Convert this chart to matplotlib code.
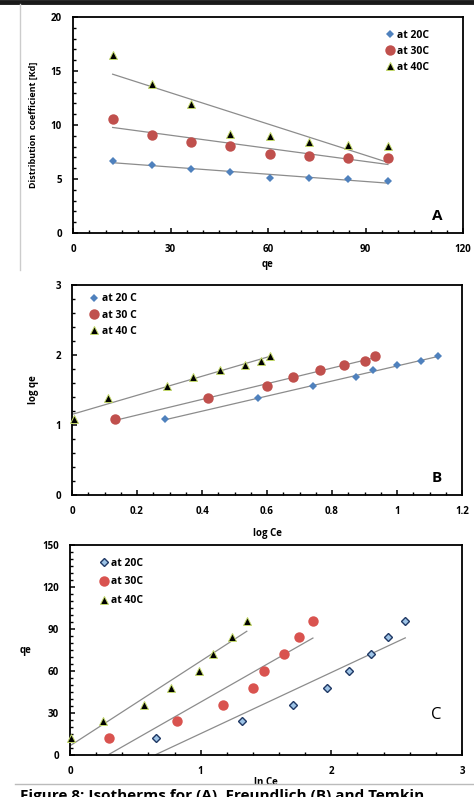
import numpy as np
import matplotlib
matplotlib.use("Agg")
import matplotlib.pyplot as plt
from matplotlib.ticker import MultipleLocator

plt.rcParams.update({"font.family": ["Open Sans", "DejaVu Sans"], "font.weight": "bold",
                     "axes.labelweight": "bold", "font.size": 7, "axes.linewidth": 1.3})

# ---- data ----
labels_a = ["at 20C", "at 30C", "at 40C"]
labels_b = ["at 20 C", "at 30 C", "at 40 C"]

# A: Kd vs qe
qe_a = [12.2, 24.3, 36.3, 48.4, 60.6, 72.5, 84.7, 96.9]
kd_20 = [6.65, 6.3, 5.95, 5.68, 5.08, 5.05, 4.98, 4.82]
kd_30 = [10.6, 9.12, 8.38, 8.05, 7.36, 7.1, 6.98, 6.9]
kd_40 = [16.5, 13.8, 11.9, 9.2, 9.0, 8.4, 8.12, 8.08]

# B: log qe vs log Ce
logqe = [1.08, 1.38, 1.56, 1.68, 1.78, 1.86, 1.92, 1.98]
logce_20 = [0.285, 0.572, 0.742, 0.874, 0.926, 1.0, 1.075, 1.126]
logce_30 = [0.133, 0.417, 0.6, 0.679, 0.764, 0.838, 0.901, 0.933]
logce_40 = [0.005, 0.11, 0.292, 0.372, 0.456, 0.531, 0.582, 0.61]

# C: qe vs ln Ce
qe_c = [12, 24, 36, 48, 60, 72, 84, 96]
lnce_20 = [0.656, 1.32, 1.71, 1.966, 2.137, 2.305, 2.433, 2.566]
lnce_30 = [0.30, 0.822, 1.174, 1.404, 1.486, 1.639, 1.75, 1.859]
lnce_40 = [0.005, 0.255, 0.567, 0.771, 0.988, 1.098, 1.238, 1.353]

BLUE, RED = "#4f81bd", "#c0504d"
TRI = dict(marker="^", color="black", mec="#c4d96a", mew=0.7, ms=5.2)
LINE = dict(color="#8c8c8c", lw=0.9, zorder=1)

W, H = 474, 797
fig = plt.figure(figsize=(W / 100, H / 100), dpi=100)

def box(l, t, r, b):
    return [l / W, 1 - b / H, (r - l) / W, (b - t) / H]

def trend(ax, x, y):
    k, c = np.polyfit(x, y, 1)
    xs = np.array([min(x), max(x)])
    ax.plot(xs, k * xs + c, **LINE)

def style(ax):
    ax.tick_params(which="both", direction="in", labelsize=7)
    ax.tick_params(which="major", length=3.5, width=1.1, pad=8)
    ax.tick_params(which="minor", length=2.5, width=1.0)

LEG = dict(frameon=False, fontsize=7.5, handletextpad=0.1, handlelength=1.2)

# ---- panel A ----
a = fig.add_axes(box(73, 17, 463, 233))
series_a = [(kd_20, dict(marker="D", color=BLUE, ms=4.5, mew=0)),
            (kd_30, dict(marker="o", color=RED, ms=7.5, mew=0)),
            (kd_40, TRI)]
for (y, st), lab in zip(series_a, labels_a):
    a.plot(qe_a, y, ls="none", label=lab, zorder=3, **st)
    trend(a, qe_a, y)
a.set_xlim(0, 120); a.set_ylim(0, 20)
a.xaxis.set_major_locator(MultipleLocator(30)); a.xaxis.set_minor_locator(MultipleLocator(5))
a.yaxis.set_major_locator(MultipleLocator(5)); a.yaxis.set_minor_locator(MultipleLocator(1))
style(a)
a.set_xlabel("qe", fontsize=7, labelpad=3)
a.set_ylabel("Distribution  coefficient [Kd]", fontsize=6.5, labelpad=9)
a.text(0.935, 0.08, "A", transform=a.transAxes, fontsize=11, ha="center", va="center")
a.legend(loc="upper right", borderaxespad=0.6, bbox_to_anchor=(0.94, 0.99),
         labelspacing=0.5, **LEG)

# ---- panel B ----
b = fig.add_axes(box(72, 285, 462, 495))
series_b = [(logce_20, dict(marker="D", color=BLUE, ms=4.5, mew=0)),
            (logce_30, dict(marker="o", color=RED, ms=7.5, mew=0)),
            (logce_40, TRI)]
for (x, st), lab in zip(series_b, labels_b):
    b.plot(x, logqe, ls="none", label=lab, zorder=3, clip_on=False, **st)
    trend(b, x, logqe)
b.set_xlim(0, 1.2); b.set_ylim(0, 3)
b.xaxis.set_major_locator(MultipleLocator(0.2)); b.xaxis.set_minor_locator(MultipleLocator(0.05))
b.yaxis.set_major_locator(MultipleLocator(1)); b.yaxis.set_minor_locator(MultipleLocator(0.2))
b.xaxis.set_major_formatter(plt.FuncFormatter(lambda v, p: f"{v:g}"))
style(b)
b.set_xlabel("log Ce", fontsize=7, labelpad=8)
b.set_ylabel("log qe", fontsize=7, labelpad=12)
b.text(0.935, 0.08, "B", transform=b.transAxes, fontsize=11, ha="center", va="center")
b.legend(loc="upper left", borderaxespad=0.4, bbox_to_anchor=(0.02, 1.0),
         labelspacing=0.5, **LEG)

# ---- panel C ----
c = fig.add_axes(box(70, 545, 462, 755))
series_c = [(lnce_20, dict(marker="D", color="#9dc3e6", mec="#1f3864", mew=1.0, ms=4.2)),
            (lnce_30, dict(marker="o", color="#d9534f", ms=7.5, mew=0)),
            (lnce_40, TRI)]
for (x, st), lab in zip(series_c, labels_a):
    c.plot(x, qe_c, ls="none", label=lab, zorder=3, clip_on=False, **st)
    trend(c, x, qe_c)
c.set_xlim(0, 3); c.set_ylim(0, 150)
c.xaxis.set_major_locator(MultipleLocator(1)); c.xaxis.set_minor_locator(MultipleLocator(0.2))
c.yaxis.set_major_locator(MultipleLocator(30)); c.yaxis.set_minor_locator(MultipleLocator(5))
style(c)
c.set_xlabel("ln Ce", fontsize=7, labelpad=0)
c.set_ylabel("qe", fontsize=7, rotation=0, labelpad=12, va="center")
c.text(0.935, 0.19, "C", transform=c.transAxes, fontsize=12, fontweight="normal",
       ha="center", va="center")
c.legend(loc="upper left", borderaxespad=0.4, bbox_to_anchor=(0.05, 0.98),
         labelspacing=0.75, **LEG)

# ---- page decorations ----
fig.add_artist(plt.Line2D([0, 1], [1 - 2 / H, 1 - 2 / H], color="#1a1a1a", lw=3.5))
fig.add_artist(plt.Line2D([20 / W, 20 / W], [1 - 4 / H, 1 - 270 / H], color="#cccccc", lw=1))
fig.add_artist(plt.Line2D([15 / W, 1], [1 - 784 / H, 1 - 784 / H], color="#bbbbbb", lw=1))
fig.text(20 / W, 1 - 789 / H, "Figure 8: Isotherms for (A), Freundlich (B) and Temkin",
         fontsize=11, va="top", ha="left")

fig.savefig("out.png", dpi=100)
